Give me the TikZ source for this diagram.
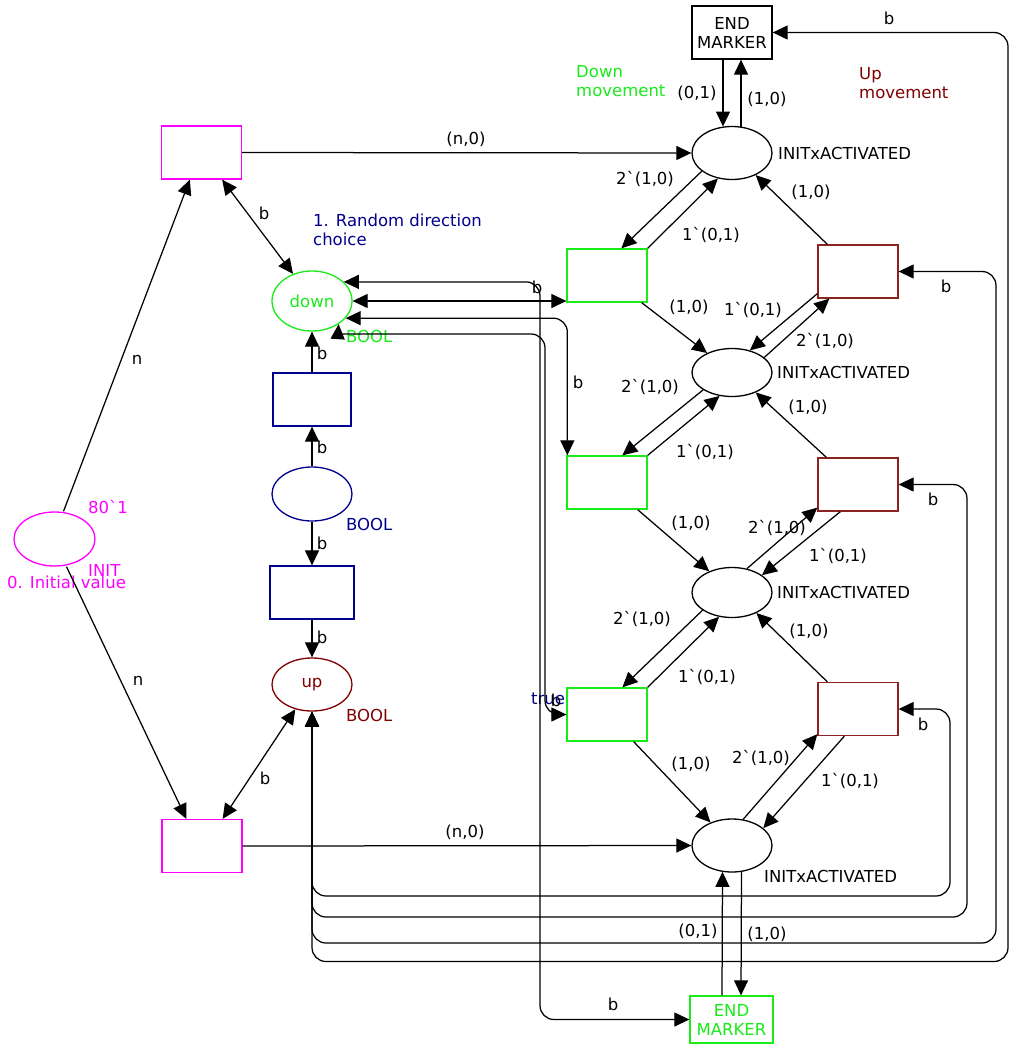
\documentclass[tikz,border=0pt]{standalone}
\usepackage{fontspec}
\setmainfont{DejaVu Sans}
\usetikzlibrary{arrows.meta,calc,shapes.geometric}
\definecolor{cgreen}{RGB}{25,235,25}
\definecolor{cmag}{RGB}{255,0,255}
\definecolor{cnavy}{RGB}{0,0,140}
\definecolor{cdred}{RGB}{128,0,0}
\definecolor{credb}{RGB}{140,35,35}
\begin{document}
\begin{tikzpicture}[x=1pt,y=-1pt,
  every node/.style={font=\fontsize{16.5}{19}\selectfont, inner sep=0pt},
  trans/.style={draw, line width=1.3pt, fill=white, minimum width=80pt, minimum height=53pt},
  place/.style={ellipse, draw, line width=1.3pt, fill=white, minimum width=80pt, minimum height=53pt},
  arc/.style={line width=1.25pt, -{Triangle[length=15pt,width=14pt]}},
  biarc/.style={line width=1.25pt, {Triangle[length=15pt,width=14pt]}-{Triangle[length=15pt,width=14pt]}},
  route/.style={biarc, rounded corners=14pt},
  lbl/.style={text=black}]
\fill[white] (0,0) rectangle (1015,1049);
\useasboundingbox (0,0) rectangle (1015,1049);

% ---------- right part ----------
\node[trans, align=center] (END1) at (732,32.5) {END\\MARKER};
\node[place] (P1) at (732,153) {};
\node[place, minimum height=48pt] (P2) at (732,372.5) {};
\node[place, minimum height=50pt] (P3) at (732,592.5) {};
\node[place] (P4) at (732,845.5) {};
\node[trans, draw=cgreen] (G1) at (607,275.5) {};
\node[trans, draw=cgreen] (G2) at (607,482.5) {};
\node[trans, draw=cgreen] (G3) at (607,714.5) {};
\node[trans, draw=credb] (R1) at (858,271.5) {};
\node[trans, draw=credb] (R2) at (858,484.5) {};
\node[trans, draw=credb] (R3) at (858,709) {};
\node[trans, draw=cgreen, text=cgreen, minimum width=83pt, minimum height=47pt, align=center] (END2) at (731.5,1019.5) {END\\MARKER};

% ---------- left part ----------
\node[place, draw=cmag, minimum width=81pt, minimum height=54pt] (INIT) at (54.5,539) {};
\node[trans, draw=cmag] (M1) at (201.5,152.5) {};
\node[trans, draw=cmag] (M2) at (202,846) {};
\node[place, draw=cgreen, text=cgreen, minimum height=60pt] (down) at (312,301) {down};
\node[trans, draw=cnavy, minimum width=78pt] (B1) at (312,399.5) {};
\node[place, draw=cnavy, minimum height=54pt] (BP) at (312,494) {};
\node[trans, draw=cnavy, minimum width=84pt] (B2) at (312,592.5) {};
\node[place, draw=cdred, text=cdred] (up) at (312,684.5) {up};

% ---------- texts ----------
\node[anchor=west, text=cmag] (t801) at (88,507) {80\textasciigrave 1};
\node[anchor=west, text=cmag] (tinit) at (88,570) {INIT};
\node[anchor=west, text=cmag] (tinitv) at (7,582) {0. Initial value};
\node[anchor=west, text=cgreen] (tb1) at (346,336) {BOOL};
\node[anchor=west, text=cnavy] (tb2) at (346,524) {BOOL};
\node[anchor=west, text=cdred] (tb3) at (346,715) {BOOL};
\node[anchor=west, text=cnavy, align=left] (trand) at (313,230) {1. Random direction\\choice};
\node[anchor=west, text=cgreen, align=left] (tdown) at (576,81) {Down\\movement};
\node[anchor=west, text=cdred, align=left] (tup) at (859,83) {Up\\movement};
\node[anchor=west] (ta1) at (778,153) {INITxACTIVATED};
\node[anchor=west] (ta2) at (777,372) {INITxACTIVATED};
\node[anchor=west] (ta3) at (777,592) {INITxACTIVATED};
\node[anchor=west] (ta4) at (764,876) {INITxACTIVATED};
\node[anchor=west, text=cnavy] (ttrue) at (531,699) {true};

% ---------- arcs ----------
\draw[arc] ($(INIT.north)+(9,0)$) -- ($(M1.south west)+(29,0)$);
\draw[arc] ($(INIT.south)+(12,0)$) -- ($(M2.north west)+(25,0)$);
\draw[biarc] ($(M1.south east)+(-20,0)$) -- (down.125);
\draw[biarc] ($(M2.north east)+(-20,0)$) -- (up.236);
\draw[arc] (M1.east) -- (P1.west);
\draw[arc] (M2.east) -- (P4.west);

\draw[arc] (B1.north) -- (down.south);
\draw[arc] (BP.north) -- (B1.south);
\draw[arc] (BP.south) -- (B2.north);
\draw[arc] (B2.south) -- (up.north);

\draw[arc] ($(END1.south)+(-9,0)$) -- ($(P1.north)+(-9,0.7)$);
\draw[arc] ($(P1.north)+(9,0.7)$) -- ($(END1.south)+(9,0)$);
\draw[arc] ($(END2.north)+(-9.5,0)$) -- ($(P4.south)+(-9.5,-0.8)$);
\draw[arc] ($(P4.south)+(9.5,-0.8)$) -- ($(END2.north)+(9.5,0)$);

\draw[arc] (P1.211) -- ($(G1.north west)+(55,0)$);
\draw[arc] (G1.north east) -- (P1.241);
\draw[arc] ($(R1.north west)+(10,0)$) -- (P1.317);
\draw[arc] ($(G1.south east)+(-6,0)$) -- (P2.142);
\draw[arc] ($(R1.south west)+(0,-5)$) -- (P2.51);
\draw[arc] (P2.25) -- ($(R1.south west)+(12,0)$);
\draw[arc] (P2.211) -- ($(G2.north west)+(56,0)$);
\draw[arc] (G2.north east) -- (P2.242);
\draw[arc] ($(R2.north west)+(9,0)$) -- (P2.320);
\draw[arc] ($(G2.south east)+(-10,0)$) -- (P3.137);
\draw[arc] (P3.58) -- ($(R2.south west)+(0,-4)$);
\draw[arc] ($(R2.south west)+(23,0)$) -- (P3.30);
\draw[arc] (P3.211) -- ($(G3.north west)+(56,0)$);
\draw[arc] (G3.north east) -- (P3.242);
\draw[arc] ($(R3.north west)+(10,0)$) -- (P3.320);
\draw[arc] ($(G3.south east)+(-14,0)$) -- (P4.133);
\draw[arc] (P4.67) -- ($(R3.south west)+(0,-2)$);
\draw[arc] ($(R3.south west)+(27,0)$) -- (P4.29);

% ---------- routed arcs ----------
\coordinate (cE) at (540,1019.5);
\coordinate (cF1) at (338,334);
\coordinate (cF2) at (545,334);
\coordinate (cA) at (950,896);
\coordinate (cB) at (967,917);
\coordinate (cC) at (996,943);
\coordinate (cD) at (1008,961.5);
\draw[biarc] (down.east) -- (down.east -| G1.west);
\draw[route] (down.31) -| (cE) -- (END2.west);
\draw[route] (down.333) -| ($(G2.north west)+(1,0)$);
\draw[biarc] (down.319) -- (cF1) [rounded corners=14pt] -- (cF2) |- (G3.west);
\draw[route] (up.south) |- (cA) |- (R3.east);
\draw[route] (up.south) |- (cB) |- (R2.east);
\draw[route] (up.south) |- (cC) |- (R1.east);
\draw[route] (up.south) |- (cD) |- (END1.east);

% ---------- arc labels ----------
\node[lbl] (l1) at (137,360) {n};
\node[lbl] (l2) at (138,681) {n};
\node[lbl] (l3) at (264,213) {b};
\node[lbl] (l4) at (265,778) {b};
\node[lbl] (l5) at (466,139) {(n,0)};
\node[lbl] (l6) at (465,832) {(n,0)};
\node[lbl] (l7) at (322,353) {b};
\node[lbl] (l8) at (322,447) {b};
\node[lbl] (l9) at (322,543) {b};
\node[lbl] (l10) at (322,637) {b};
\node[lbl] (l11) at (697,93) {(0,1)};
\node[lbl] (l12) at (767,99) {(1,0)};
\node[lbl] (l13) at (645,179) {2\textasciigrave(1,0)};
\node[lbl] (l14) at (711,235) {1\textasciigrave(0,1)};
\node[lbl] (l15) at (811,192) {(1,0)};
\node[lbl] (l16) at (689,307) {(1,0)};
\node[lbl] (l17) at (753,310) {1\textasciigrave(0,1)};
\node[lbl] (l18) at (825,341) {2\textasciigrave(1,0)};
\node[lbl] (l19) at (946,286) {b};
\node[lbl] (l20) at (650,387) {2\textasciigrave(1,0)};
\node[lbl] (l21) at (808,407) {(1,0)};
\node[lbl] (l22) at (705,452) {1\textasciigrave(0,1)};
\node[lbl] (l23) at (578,382) {b};
\node[lbl] (l24) at (933,499) {b};
\node[lbl] (l25) at (691,523) {(1,0)};
\node[lbl] (l26) at (777,528) {2\textasciigrave(1,0)};
\node[lbl] (l27) at (838,556) {1\textasciigrave(0,1)};
\node[lbl] (l28) at (642,619) {2\textasciigrave(1,0)};
\node[lbl] (l29) at (809,631) {(1,0)};
\node[lbl] (l30) at (707,677) {1\textasciigrave(0,1)};
\node[lbl] (l31) at (923,724) {b};
\node[lbl] (l32) at (691,764) {(1,0)};
\node[lbl] (l33) at (761,758) {2\textasciigrave(1,0)};
\node[lbl] (l34) at (850,781) {1\textasciigrave(0,1)};
\node[lbl] (l35) at (698,931) {(0,1)};
\node[lbl] (l36) at (767,934) {(1,0)};
\node[lbl] (l37) at (613,1004) {b};
\node[lbl] (l38) at (889,18) {b};
\node[lbl] (l39) at (537,287) {b};
\node[lbl] (l40) at (556,700) {b};
\end{tikzpicture}
\end{document}
